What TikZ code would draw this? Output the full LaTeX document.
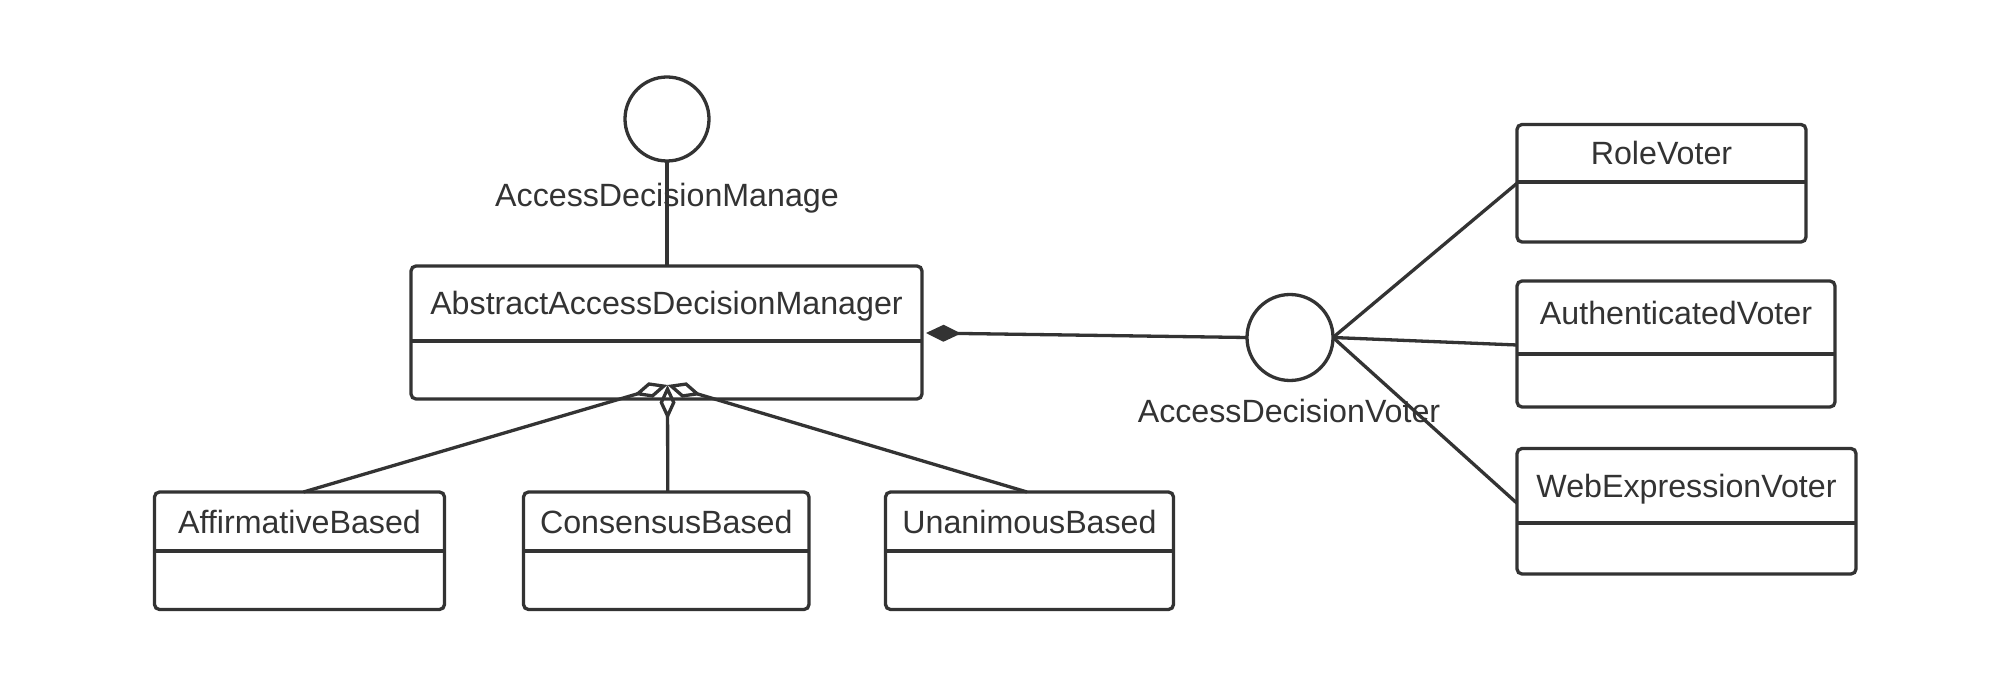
\documentclass[tikz,border=0pt]{standalone}
\usepackage{fontspec}
\setmainfont{Liberation Sans}
\usetikzlibrary{arrows.meta}
\definecolor{ink}{HTML}{333333}
\begin{document}
\begin{tikzpicture}[x=1pt,y=-1pt,
  ln/.style={draw=ink,line width=3.3pt},
  cls/.style={draw=ink,line width=3.3pt,rounded corners=5pt,inner sep=0pt,outer sep=0pt},
  ifc/.style={circle,draw=ink,line width=3.3pt,inner sep=0pt,outer sep=0pt},
  lbl/.style={text=ink,inner sep=0pt,anchor=base,font=\fontsize{32.2}{38}\selectfont},
  compo/.style={ln,-{Diamond[length=35pt,width=17pt,fill=ink]}},
  aggr/.style={ln,-{Diamond[open,length=35pt,width=16pt]}},
]
\fill[white] (0,0) rectangle (2000,700);
\useasboundingbox (0,0) rectangle (2000,700);

% interfaces
\node[ifc,minimum size=84pt] (mgr) at (667,119) {};
\node[lbl] (mgrT) at (667,207) {AccessDecisionManage};
\node[ifc,minimum size=86pt] (voter) at (1290,337.5) {};
\node[lbl] (voterT) at (1289,423) {AccessDecisionVoter};

% abstract manager
\node[cls,minimum width=511pt,minimum height=133pt] (abs) at (666.5,332.5) {};
\draw[ln] (abs.west |- 0,341) -- (abs.east |- 0,341);
\node[lbl] (absT) at (666.5,315) {AbstractAccessDecisionManager};

% voters
\node[cls,minimum width=289pt,minimum height=117.5pt] (role) at (1661.5,183.25) {};
\draw[ln] (role.west |- 0,182) -- (role.east |- 0,182);
\node[lbl] (roleT) at (1661.5,164.5) {RoleVoter};

\node[cls,minimum width=318pt,minimum height=126pt] (auth) at (1676,344) {};
\draw[ln] (auth.west |- 0,354) -- (auth.east |- 0,354);
\node[lbl] (authT) at (1676,325) {AuthenticatedVoter};

\node[cls,minimum width=339pt,minimum height=125.5pt] (web) at (1686.5,511.25) {};
\draw[ln] (web.west |- 0,523) -- (web.east |- 0,523);
\node[lbl] (webT) at (1686.5,497) {WebExpressionVoter};

% concrete managers
\node[cls,minimum width=290pt,minimum height=117.5pt] (aff) at (299.5,550.75) {};
\draw[ln] (aff.west |- 0,551) -- (aff.east |- 0,551);
\node[lbl] (affT) at (299.5,533.5) {AffirmativeBased};

\node[cls,minimum width=285.5pt,minimum height=117.5pt] (con) at (666.25,550.75) {};
\draw[ln] (con.west |- 0,551) -- (con.east |- 0,551);
\node[lbl] (conT) at (666.25,533.5) {ConsensusBased};

\node[cls,minimum width=288pt,minimum height=117.5pt] (una) at (1029.5,550.75) {};
\draw[ln] (una.west |- 0,551) -- (una.east |- 0,551);
\node[lbl] (unaT) at (1029.5,533.5) {UnanimousBased};

% connectors
\coordinate (agg) at (667.5,385);
\coordinate (cmp) at (926,333);
\draw[ln] (mgr.south) -- (mgr.south |- abs.north);
\draw[compo] (voter.west) -- (cmp);
\draw[ln] (voter.east) -- (role.west);
\draw[ln] (voter.east) -- ([yshift=-1pt]auth.west);
\draw[ln] (voter.east) -- ([yshift=8pt]web.west);
\draw[aggr] ([xshift=4pt]aff.north) -- (agg);
\draw[aggr] ([xshift=1.5pt]con.north) -- (agg);
\draw[aggr] ([xshift=-2.5pt]una.north) -- (agg);
\end{tikzpicture}
\end{document}
